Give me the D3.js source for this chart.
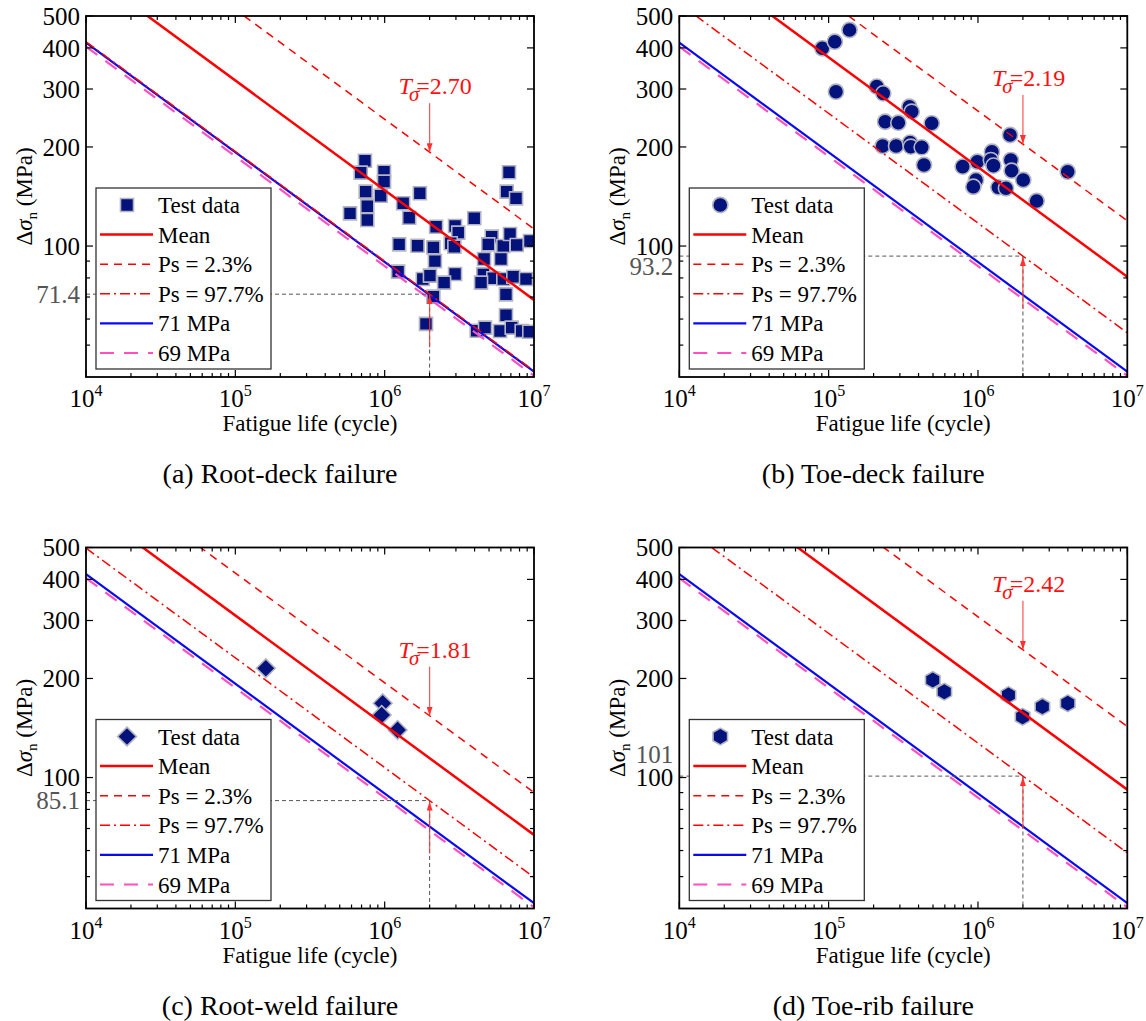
<!DOCTYPE html>
<html>
<head>
<meta charset="utf-8">
<script src="https://cdn.jsdelivr.net/npm/d3@7"></script>
<style>
    body { margin: 0; background: #fff; }
</style>
</head>
<body>
<script>
// axis ranges and ticks
const x_domain = [1e4, 1e7];
const y_domain = [40, 500];
const x_major = [1e4, 1e5, 1e6, 1e7];
const x_exponents = ['4', '5', '6', '7'];
const y_major = [100, 200, 300, 400, 500];
const y_minor = [50, 60, 70, 80, 90];

// S-N parameters of every panel
const captions = ['(a) Root-deck failure', '(b) Toe-deck failure', '(c) Root-weld failure', '(d) Toe-rib failure'];
const t_sigma = ['2.70', '2.19', '1.81', '2.42'];
const s_977 = [71.4, 93.2, 85.1, 101];      // stress at 2e6 cycles, Ps = 97.7%
const s_977_labels = ['71.4', '93.2', '85.1', '101'];
const marker_shapes = ['square', 'circle', 'diamond', 'hexagon'];
const fat_classes = [71, 69];
const ref_cycles = 2e6;
const slope_m = 3;
const legend_labels = ['Test data', 'Mean', 'Ps = 2.3%', 'Ps = 97.7%', '71 MPa', '69 MPa'];

// test data [cycles, stress range MPa]
const root_deck = [
    [7.38e5, 181.7], [6.91e5, 167.1], [9.9e5, 168.2], [9.9e5, 156.9], [7.46e5, 146.3], [9.4e5, 142.2],
    [7.65e5, 132.1], [5.86e5, 125.7], [7.65e5, 120.0], [1.72e6, 144.6], [1.33e6, 134.9], [1.46e6, 121.9],
    [2.21e6, 114.5], [2.96e6, 115.1], [3.11e6, 109.8], [3.98e6, 121.4], [1.25e6, 101.2], [1.66e6, 100.2],
    [2.12e6, 99.1], [2.77e6, 102.0], [2.93e6, 99.5], [2.17e6, 90.0], [1.23e6, 83.6], [1.80e6, 79.4],
    [2.01e6, 81.3], [2.96e6, 82.2], [2.50e6, 77.4], [2.12e6, 70.2], [1.89e6, 58.0], [4.13e6, 55.3],
    [4.70e6, 56.5], [5.92e6, 55.2], [6.49e6, 61.6], [7.09e6, 56.5], [8.27e6, 55.2], [9.30e6, 54.9],
    [5.21e6, 106.8], [4.94e6, 101.2], [6.23e6, 100.0], [6.91e6, 108.8], [7.66e6, 100.7], [9.40e6, 103.6],
    [4.63e6, 91.3], [6.01e6, 91.3], [4.58e6, 82.0], [5.34e6, 79.8], [4.42e6, 77.4], [6.23e6, 79.4],
    [7.27e6, 80.7], [8.84e6, 79.4], [6.49e6, 71.3], [6.80e6, 167.5], [6.56e6, 146.3], [7.58e6, 139.6]
];
const toe_deck = [
    [9.07e4, 398.9], [1.10e5, 417.7], [1.38e5, 453.4], [1.12e5, 294.4], [2.10e5, 305.0], [2.32e5, 291.0],
    [2.39e5, 238.6], [2.30e5, 201.4], [2.93e5, 237.0], [3.47e5, 265.1], [3.60e5, 256.0], [4.90e5, 236.0],
    [2.83e5, 201.4], [3.51e5, 206.1], [3.55e5, 200.4], [4.20e5, 199.5], [4.35e5, 176.3], [7.90e5, 174.3],
    [9.90e5, 180.4], [9.70e5, 158.7], [9.31e5, 151.4], [1.24e6, 193.5], [1.22e6, 182.5], [1.27e6, 175.5],
    [1.64e6, 217.5], [1.66e6, 182.5], [1.68e6, 169.4], [2.01e6, 158.7], [1.37e6, 150.8], [1.54e6, 149.8],
    [2.47e6, 137.1], [3.99e6, 168.2]
];
const root_weld = [[1.60e5, 214.8], [9.70e5, 168.1], [9.55e5, 154.9], [1.22e6, 139.5]];
const toe_rib = [[4.98e5, 197.9], [5.95e5, 182.3], [1.60e6, 178.1], [1.99e6, 153.0], [2.70e6, 164.2], [3.99e6, 168.1]];
const panel_data = [root_deck, toe_deck, root_weld, toe_rib];

// layout
const font_family = "'Liberation Serif', 'Times New Roman', serif";
const plot_w = 448;
const plot_h = 361;
const panel_pos = [[86, 16], [679.3, 16], [86, 547.5], [679.3, 547.5]];
const label_shift = [0, 10, 0, -22];
const navy = '#04137c';
const line_styles = [
    {color: '#ff0000', width: 2.5, dash: null},            // mean
    {color: '#ff0000', width: 1.5, dash: '8,6'},           // 2.3%
    {color: '#ff0000', width: 1.5, dash: '10,4,2,4'},      // 97.7%
    {color: '#0a0af0', width: 2.2, dash: null},            // 71
    {color: '#ff4fc0', width: 2.2, dash: '14,10'}          // 69
];

const svg = d3.select('body')
    .append('svg')
    .attr('width', 1146)
    .attr('height', 1021)
    .style('font-family', font_family);

svg.append('rect')
    .attr('width', 1146)
    .attr('height', 1021)
    .attr('fill', 'white');

const defs = svg.append('defs');
defs.append('marker')
    .attr('id', 'arrow_head')
    .attr('viewBox', '0 0 10 10')
    .attr('refX', 10)
    .attr('refY', 5)
    .attr('markerUnits', 'userSpaceOnUse')
    .attr('markerWidth', 9)
    .attr('markerHeight', 6)
    .attr('preserveAspectRatio', 'none')
    .attr('orient', 'auto')
    .append('path')
    .attr('d', 'M0,0L10,5L0,10z')
    .attr('fill', '#f33');

const x = d3.scaleLog().domain(x_domain).range([0, plot_w]);
const y = d3.scaleLog().domain(y_domain).range([plot_h, 0]);
const x_minor = x.ticks().filter(d => !x_major.includes(d));

// S-N line through s_ref at 2e6 cycles, evaluated at the domain ends
function sn_points(s_ref) {
    return x_domain.map(n => [n, s_ref * Math.pow(ref_cycles / n, 1 / slope_m)]);
}

function marker_path(shape) {
    if (shape === 'square') return 'M-6.5,-6.5h13v13h-13z';
    if (shape === 'diamond') return 'M0,-9.4L9.4,0L0,9.4L-9.4,0z';
    if (shape === 'hexagon') {
        const r = 8.4;
        return 'M' + d3.range(6).map(i => {
            const a = Math.PI / 3 * i - Math.PI / 2;
            return [r * Math.cos(a), r * Math.sin(a)].join(',');
        }).join('L') + 'Z';
    }
    return d3.symbol(d3.symbolCircle, Math.PI * 7.6 * 7.6)();
}

const line = d3.line()
    .x(d => x(d[0]))
    .y(d => y(d[1]));

svg.selectAll('.panel')
    .data(captions)
    .enter()
    .append('g')
    .attr('class', 'panel')
    .attr('transform', (d, i) => `translate(${panel_pos[i][0]}, ${panel_pos[i][1]})`)
    .each(function (caption, pi) {
        const g = d3.select(this);
        const t = +t_sigma[pi];
        const lower = s_977[pi];
        const curves = [lower * Math.sqrt(t), lower * t, lower, fat_classes[0], fat_classes[1]];

        defs.append('clipPath')
            .attr('id', 'clip_' + pi)
            .append('rect')
            .attr('width', plot_w)
            .attr('height', plot_h);

        const plot_g = g.append('g').attr('clip-path', `url(#clip_${pi})`);

        // markers
        plot_g.selectAll('.pt')
            .data(panel_data[pi])
            .enter()
            .append('path')
            .attr('class', 'pt')
            .attr('transform', d => `translate(${x(d[0])}, ${y(d[1])})`)
            .attr('d', marker_path(marker_shapes[pi]))
            .attr('fill', navy)
            .attr('stroke', '#b4b4c0')
            .attr('stroke-width', 1.6);

        // S-N lines (69, 71, 97.7%, mean, 2.3%)
        const order = [4, 3, 2, 0, 1];
        plot_g.selectAll('.sn')
            .data(order)
            .enter()
            .append('path')
            .attr('class', 'sn')
            .attr('d', k => line(sn_points(curves[k])))
            .attr('fill', 'none')
            .attr('stroke', k => line_styles[k].color)
            .attr('stroke-width', k => line_styles[k].width)
            .attr('stroke-dasharray', k => line_styles[k].dash);

        // reference at 2e6 cycles
        const rx = x(ref_cycles);
        const ry = y(lower);
        g.append('path')
            .attr('d', `M0,${ry}H${rx}V${plot_h}`)
            .attr('fill', 'none')
            .attr('stroke', '#555')
            .attr('stroke-width', 1)
            .attr('stroke-dasharray', '4,3');
        g.append('line')
            .attr('x1', rx).attr('x2', rx)
            .attr('y1', ry + 53).attr('y2', ry + 1)
            .attr('stroke', '#f33')
            .attr('stroke-opacity', 0.85)
            .attr('stroke-width', 1.2)
            .attr('marker-end', 'url(#arrow_head)');
        g.append('text')
            .attr('x', -6)
            .attr('y', ry + label_shift[pi])
            .attr('dy', '0.35em')
            .attr('text-anchor', 'end')
            .attr('font-size', 25)
            .attr('fill', '#555')
            .text(s_977_labels[pi]);

        // T sigma annotation
        const uy = y(lower * t);
        g.append('line')
            .attr('x1', rx).attr('x2', rx)
            .attr('y1', uy - 49).attr('y2', uy)
            .attr('stroke', '#f33')
            .attr('stroke-opacity', 0.85)
            .attr('stroke-width', 1.2)
            .attr('marker-end', 'url(#arrow_head)');
        const t_text = g.append('text')
            .attr('x', rx - 31)
            .attr('y', uy - 58)
            .attr('font-size', 24)
            .attr('fill', '#ff1010');
        t_text.append('tspan').attr('font-style', 'italic').text('T');
        t_text.append('tspan').attr('font-style', 'italic').attr('font-size', 21)
            .attr('dx', -3).attr('dy', 7).text('σ');
        t_text.append('tspan').attr('dx', -3).attr('dy', -7).text('=' + t_sigma[pi]);

        // ticks on all four sides
        const tick_g = g.append('g')
            .attr('stroke', '#000')
            .attr('stroke-width', 1.2);
        const xt = x_major.map(v => [v, 7]).concat(x_minor.map(v => [v, 4]));
        const yt = y_major.map(v => [v, 7]).concat(y_minor.map(v => [v, 4]));
        tick_g.selectAll('.xb').data(xt).enter().append('line')
            .attr('x1', d => x(d[0])).attr('x2', d => x(d[0]))
            .attr('y1', plot_h).attr('y2', d => plot_h - d[1]);
        tick_g.selectAll('.xt').data(xt).enter().append('line')
            .attr('x1', d => x(d[0])).attr('x2', d => x(d[0]))
            .attr('y1', 0).attr('y2', d => d[1]);
        tick_g.selectAll('.yl').data(yt).enter().append('line')
            .attr('y1', d => y(d[0])).attr('y2', d => y(d[0]))
            .attr('x1', 0).attr('x2', d => d[1]);
        tick_g.selectAll('.yr').data(yt).enter().append('line')
            .attr('y1', d => y(d[0])).attr('y2', d => y(d[0]))
            .attr('x1', plot_w).attr('x2', d => plot_w - d[1]);

        g.append('rect')
            .attr('width', plot_w)
            .attr('height', plot_h)
            .attr('fill', 'none')
            .attr('stroke', '#000')
            .attr('stroke-width', 1.8);

        // tick labels
        g.selectAll('.ylab')
            .data(y_major)
            .enter()
            .append('text')
            .attr('x', -6)
            .attr('y', d => y(d))
            .attr('dy', '0.35em')
            .attr('text-anchor', 'end')
            .attr('font-size', 25)
            .text(d => d);
        g.selectAll('.xlab')
            .data(x_major)
            .enter()
            .append('text')
            .attr('x', d => x(d))
            .attr('y', plot_h + 30)
            .attr('text-anchor', 'middle')
            .attr('font-size', 25)
            .each(function (d, i) {
                const txt = d3.select(this);
                txt.append('tspan').text('10');
                txt.append('tspan').attr('font-size', 16).attr('dy', -11).text(x_exponents[i]);
            });

        // axis titles
        g.append('text')
            .attr('x', plot_w / 2)
            .attr('y', plot_h + 54)
            .attr('text-anchor', 'middle')
            .attr('font-size', 23)
            .text('Fatigue life (cycle)');
        const ylab = g.append('text')
            .attr('transform', `translate(-54, ${plot_h / 2}) rotate(-90)`)
            .attr('text-anchor', 'middle')
            .attr('font-size', 23);
        ylab.append('tspan').text('Δ');
        ylab.append('tspan').attr('font-style', 'italic').text('σ');
        ylab.append('tspan').attr('font-size', 15).attr('dy', 5).text('n');
        ylab.append('tspan').attr('dy', -5).text(' (MPa)');

        // caption
        g.append('text')
            .attr('x', 194)
            .attr('y', plot_h + 106)
            .attr('text-anchor', 'middle')
            .attr('font-size', 28)
            .text(caption);

        // legend
        const leg = g.append('g').attr('transform', 'translate(10, 172)');
        leg.append('rect')
            .attr('width', 175)
            .attr('height', 181)
            .attr('fill', 'white')
            .attr('stroke', '#333')
            .attr('stroke-width', 1.3);
        const rows = leg.selectAll('.row')
            .data(legend_labels)
            .enter()
            .append('g')
            .attr('class', 'row')
            .attr('transform', (d, i) => `translate(0, ${17 + i * 29.6})`);
        rows.append('text')
            .attr('x', 62)
            .attr('dy', '0.35em')
            .attr('font-size', 23)
            .text(d => d);
        rows.filter((d, i) => i === 0)
            .append('path')
            .attr('transform', 'translate(31, 0)')
            .attr('d', marker_path(marker_shapes[pi]))
            .attr('fill', navy)
            .attr('stroke', '#b4b4c0')
            .attr('stroke-width', 1.6);
        rows.filter((d, i) => i > 0)
            .append('line')
            .attr('x1', 4)
            .attr('x2', 57)
            .attr('stroke', (d, i) => line_styles[i].color)
            .attr('stroke-width', (d, i) => line_styles[i].width)
            .attr('stroke-dasharray', (d, i) => line_styles[i].dash);
    });
</script>
</body>
</html>
